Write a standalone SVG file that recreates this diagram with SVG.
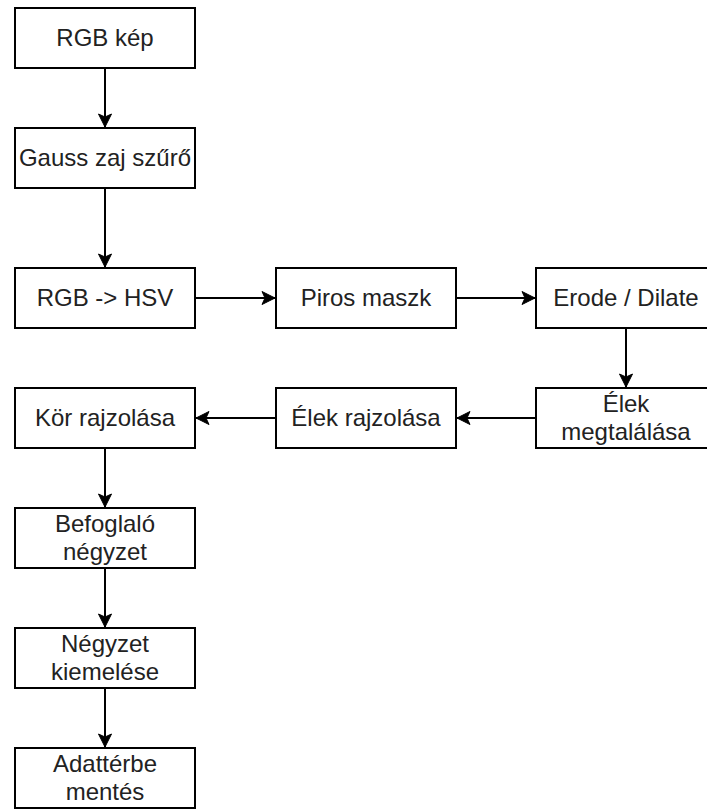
<svg xmlns="http://www.w3.org/2000/svg" width="707" height="810" viewBox="0 0 707 810">
<style>
.box{fill:#fff;stroke:#000;stroke-width:2}
.t{font-family:"Liberation Sans",Arial,sans-serif;font-size:24px;fill:#222;text-anchor:middle}
.c{fill:none;stroke:#000;stroke-width:2;marker-end:url(#arr)}
</style>
<defs>
<marker id="arr" markerUnits="userSpaceOnUse" markerWidth="16" markerHeight="16" viewBox="-14 -8 16 16" refX="0" refY="0" orient="auto">
<path d="M0,0 L-13,-6.5 L-10,0 L-13,6.5 Z" fill="#000" stroke="#000" stroke-width="1"/>
</marker>
</defs>
<rect width="707" height="810" fill="#fff"/>
<g id="connectors">
<path class="c" d="M105,68 V127"/>
<path class="c" d="M105,188 V267"/>
<path class="c" d="M195,298 H275"/>
<path class="c" d="M456,298 H535"/>
<path class="c" d="M626,328 V387"/>
<path class="c" d="M536,418 H457"/>
<path class="c" d="M276,418 H196"/>
<path class="c" d="M105,448 V507"/>
<path class="c" d="M105,568 V627"/>
<path class="c" d="M105,688 V747"/>
</g>
<g id="n1"><rect class="box" x="15" y="8" width="180" height="60"/><text class="t" x="105" y="46">RGB kép</text></g>
<g id="n2"><rect class="box" x="15" y="128" width="180" height="60"/><text class="t" x="105" y="166">Gauss zaj szűrő</text></g>
<g id="n3"><rect class="box" x="15" y="268" width="180" height="60"/><text class="t" x="105" y="306">RGB -&gt; HSV</text></g>
<g id="n4"><rect class="box" x="276" y="268" width="180" height="60"/><text class="t" x="366" y="306">Piros maszk</text></g>
<g id="n5"><rect class="box" x="536" y="268" width="180" height="60"/><text class="t" x="626" y="306">Erode / Dilate</text></g>
<g id="n6"><rect class="box" x="536" y="388" width="180" height="60"/><text class="t" x="626" y="412">Élek</text><text class="t" x="626" y="440">megtalálása</text></g>
<g id="n7"><rect class="box" x="276" y="388" width="180" height="60"/><text class="t" x="366" y="426">Élek rajzolása</text></g>
<g id="n8"><rect class="box" x="15" y="388" width="180" height="60"/><text class="t" x="105" y="426">Kör rajzolása</text></g>
<g id="n9"><rect class="box" x="15" y="508" width="180" height="60"/><text class="t" x="105" y="532">Befoglaló</text><text class="t" x="105" y="560">négyzet</text></g>
<g id="n10"><rect class="box" x="15" y="628" width="180" height="60"/><text class="t" x="105" y="652">Négyzet</text><text class="t" x="105" y="680">kiemelése</text></g>
<g id="n11"><rect class="box" x="15" y="748" width="180" height="60"/><text class="t" x="105" y="772">Adattérbe</text><text class="t" x="105" y="800">mentés</text></g>
</svg>
